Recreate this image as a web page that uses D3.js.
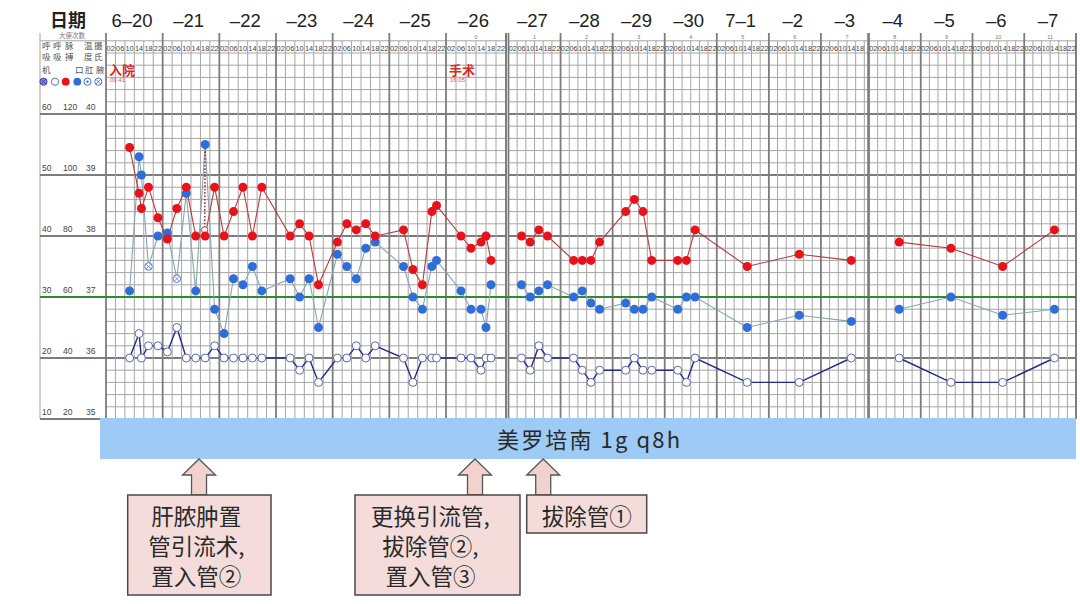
<!DOCTYPE html>
<html><head><meta charset="utf-8">
<script src="https://cdn.jsdelivr.net/npm/d3@7/dist/d3.min.js"></script>
<style>body{margin:0;background:#fff}</style>
</head><body><svg id="c" width="1080" height="604"></svg>
<script>
// ---------- DATA ----------
const dayLabels = ["6–20","–21","–22","–23","–24","–25","–26","–27","–28","–29","–30","7–1","–2","–3","–4","–5","–6","–7"];
const postOpDays = ["","","","","","","0","1","2","3","4","5","6","7","8","9","10","11"];
const hourLabels = ["02","06","10","14","18","22"];
const tempTicks = [35,36,37,38,39,40];
const pulseTicks = [20,40,60,80,100,120];
const respTicks = [10,20,30,40,50,60];

// [dayIndex, hour, value]
const pulse = [
 [0,10,109],[0,14,94],[0,15,89],[0,18,96],[0,22,86],
 [1,2,79],[1,6,89],[1,10,96],[1,14,80],[1,18,80],[1,22,96],
 [2,2,80],[2,6,88],[2,10,96],[2,14,80],[2,18,96],
 [3,6,80],[3,10,84],[3,14,80],[3,18,64],
 [4,2,78],[4,6,84],[4,10,82],[4,14,84],[4,18,80],
 [5,6,82],[5,10,69],[5,14,64],[5,18,88],[5,20,90],
 [6,6,80],[6,10,76],[6,14,78],[6,16,80],[6,18,72],
 [7,6,80],[7,10,78],[7,14,82],[7,18,80],
 [8,6,72],[8,10,72],[8,14,72],[8,18,78],
 [9,6,88],[9,10,92],[9,14,88],[9,18,72],
 [10,6,72],[10,10,72],[10,14,82],
 [11,14,70],[12,14,74],[13,14,72],
 [14,14,78],[15,14,76],[16,14,70],[17,14,82]
];
const oralTemp = [
 [0,10,37.1],[0,14,39.3],[0,15,39.0],[0,22,38.0],
 [1,2,38.05],[1,10,38.7],[1,14,37.1],[1,18,39.5],[1,22,36.8],
 [2,2,36.4],[2,6,37.3],[2,10,37.2],[2,14,37.5],[2,18,37.1],
 [3,6,37.3],[3,10,37.0],[3,14,37.3],[3,18,36.5],
 [4,2,37.7],[4,6,37.5],[4,10,37.3],[4,14,37.8],[4,18,37.9],
 [5,6,37.5],[5,10,37.0],[5,14,36.8],[5,18,37.5],[5,20,37.6],
 [6,6,37.1],[6,10,36.8],[6,14,36.8],[6,16,36.5],[6,18,37.2],
 [7,6,37.2],[7,10,37.0],[7,14,37.1],[7,18,37.2],
 [8,6,37.0],[8,10,37.1],[8,14,36.9],[8,18,36.8],
 [9,6,36.9],[9,10,36.8],[9,14,36.8],[9,18,37.0],
 [10,6,36.8],[10,10,37.0],[10,14,37.0],
 [11,14,36.5],[12,14,36.7],[13,14,36.6],
 [14,14,36.8],[15,14,37.0],[16,14,36.7],[17,14,36.8]
];
const axillaryTemp = [[0,18,37.5],[1,6,37.3]];
const cooledTemp = [[1,18,38.1]];
const respiration = [
 [0,10,20],[0,14,24],[0,15,20],[0,18,22],[0,22,22],
 [1,2,21],[1,6,25],[1,10,20],[1,14,20],[1,18,20],[1,22,22],
 [2,2,20],[2,6,20],[2,10,20],[2,14,20],[2,18,20],
 [3,6,20],[3,10,18],[3,14,20],[3,18,16],
 [4,2,20],[4,6,20],[4,10,22],[4,14,20],[4,18,22],
 [5,6,20],[5,10,16],[5,14,20],[5,18,20],[5,20,20],
 [6,6,20],[6,10,20],[6,14,18],[6,16,20],[6,18,20],
 [7,6,20],[7,10,18],[7,14,22],[7,18,20],
 [8,6,20],[8,10,18],[8,14,16],[8,18,18],
 [9,6,18],[9,10,20],[9,14,18],[9,18,18],
 [10,6,18],[10,10,16],[10,14,20],
 [11,14,16],[12,14,16],[13,14,20],
 [14,14,20],[15,14,16],[16,14,16],[17,14,20]
];
const markers = [["入院","09:41",0,9.7],["手术","16:05",6,16.1]];
const drugLabel = "美罗培南 1g q8h";
const eventTimes = [[1,15.4],[6,11.6],[7,16]];
const eventTexts = [["肝脓肿置","管引流术,","置入管②"],["更换引流管,","拔除管②,","置入管③"],["拔除管①"]];

// ---------- LAYOUT ----------
const svg = d3.select("#c");
const CJK = "'Noto Sans CJK SC','Noto Sans',sans-serif";
const LAT = "'Liberation Sans',Arial,sans-serif";
const panels = [
  {d0:0, d1:7, left:106, right:506, x:d3.scaleLinear().domain([0,144,168]).range([106,446,506])},
  {d0:7, d1:14, left:508.5, right:868, x:d3.scaleLinear().domain([168,336]).range([508.5,873])},
  {d0:14, d1:18, left:869, right:1076, x:d3.scaleLinear().domain([336,432]).range([869,1076])}
];
const panelOf = d => panels.find(p => d >= p.d0 && d < p.d1);
const X = (d,h) => panelOf(d).x(d*24+h);
const yT = d3.scaleLinear().domain([35,41.2]).range([419,40.8]);
const yP = d3.scaleLinear().domain([20,120]).range([yT(35),yT(40)]);
const yR = d3.scaleLinear().domain([10,60]).range([yT(35),yT(40)]);
const thin = "#a6a6a6", thick = "#7c7c7c";

// ---------- GRID ----------
const g = svg.append("g");
const hLines = d3.range(0,32).map(i => +(35 + i*0.2).toFixed(1));
panels.forEach(p => {
  hLines.forEach(t => {
    const major = Math.abs(t - Math.round(t)) < 1e-6 && t !== 37 && t !== 41;
    g.append("line").attr("x1",p.left).attr("x2",p.right).attr("y1",yT(t)).attr("y2",yT(t))
      .attr("stroke", major ? thick : thin).attr("stroke-width", major ? 1.8 : 1);
  });
  for (let t = p.d0*24; t <= p.d1*24; t += 4) {
    const xx = p.x(t);
    if (xx > p.right + 0.5) continue;
    const day = t % 24 === 0;
    g.append("line").attr("x1",xx).attr("x2",xx).attr("y1", day ? 33 : yT(41.2)).attr("y2",yT(35))
      .attr("stroke", day ? thick : thin).attr("stroke-width", day ? 1.8 : 1);
  }
  g.append("line").attr("x1",p.right).attr("x2",p.right).attr("y1",33).attr("y2",yT(35))
    .attr("stroke",thick).attr("stroke-width",1.6);
});
// label column
g.append("line").attr("x1",40).attr("x2",40).attr("y1",33).attr("y2",yT(35)).attr("stroke",thin);
g.append("line").attr("x1",40).attr("x2",106).attr("y1",yT(41.2)).attr("y2",yT(41.2)).attr("stroke",thin);
tempTicks.forEach(t => {
  if (t !== 37) g.append("line").attr("x1",40).attr("x2",106).attr("y1",yT(t)).attr("y2",yT(t))
    .attr("stroke",thick).attr("stroke-width",1.8);
});
// green normal line
g.append("line").attr("x1",40).attr("x2",1076).attr("y1",yT(37)).attr("y2",yT(37))
  .attr("stroke","#2f8a2f").attr("stroke-width",2.2);

// ---------- HEADER ----------
svg.append("text").attr("x",50).attr("y",27).text("日期")
  .attr("font-family",CJK).attr("font-weight","bold").attr("font-size",18).attr("fill","#222");
dayLabels.forEach((lab,i) => {
  svg.append("text").attr("x", X(i,11)).attr("y",27).attr("text-anchor","middle").text(lab)
    .attr("font-family",LAT).attr("font-size",18.5).attr("fill","#222");
  if (postOpDays[i]) svg.append("text").attr("x", X(i,12)).attr("y",39).attr("text-anchor","middle")
    .text(postOpDays[i]).attr("font-family",LAT).attr("font-size",5.5).attr("fill","#777");
  hourLabels.forEach((h,k) => {
    const xx = X(i, 2+4*k);
    if (xx > panelOf(i).right) return;
    svg.append("text").attr("x",xx).attr("y",50.5).attr("text-anchor","middle").text(h)
      .attr("font-family","'Liberation Sans Narrow','Liberation Sans',sans-serif")
      .attr("font-size",7.2).attr("fill","#444").attr("textLength",8.2).attr("lengthAdjust","spacingAndGlyphs");
  });
});

// label column text
const lc = svg.append("g").attr("font-family",CJK).attr("fill","#555").attr("font-size",8.5);
lc.append("text").attr("x",72).attr("y",38).attr("text-anchor","middle").attr("font-size",6.5).attr("fill","#777").text("大便次数");
[["呼",42],["呼",53],["脉",65],["温",84],["摄",94]].forEach(([t,x]) => lc.append("text").attr("x",x).attr("y",49).text(t));
[["吸",42],["吸",53],["搏",65],["度",84],["氏",94]].forEach(([t,x]) => lc.append("text").attr("x",x).attr("y",60).text(t));
[["机",42],["口",75],["肛",85],["腋",96]].forEach(([t,x]) => lc.append("text").attr("x",x).attr("y",73).text(t));
// legend symbols
const sy = 81.7;
lc.append("circle").attr("cx",43.5).attr("cy",sy).attr("r",3.6).attr("fill","#8a86d8").attr("stroke","#4b47a8");
lc.append("path").attr("d",`M41,${sy-2.5}L46,${sy+2.5}M46,${sy-2.5}L41,${sy+2.5}`).attr("stroke","#333a90").attr("stroke-width",0.8);
lc.append("circle").attr("cx",55).attr("cy",sy).attr("r",3.6).attr("fill","#fff").attr("stroke","#6070a8");
lc.append("circle").attr("cx",65.7).attr("cy",sy).attr("r",3.9).attr("fill","#e8121a");
lc.append("circle").attr("cx",77.3).attr("cy",sy).attr("r",3.9).attr("fill","#2f6ed8");
lc.append("circle").attr("cx",87.5).attr("cy",sy).attr("r",3.6).attr("fill","#fff").attr("stroke","#4a6fd0");
lc.append("circle").attr("cx",87.5).attr("cy",sy).attr("r",1.2).attr("fill","#4a6fd0");
lc.append("circle").attr("cx",98.3).attr("cy",sy).attr("r",3.6).attr("fill","#fff").attr("stroke","#4a6fd0");
lc.append("path").attr("d",`M96,${sy-2.3}L100.6,${sy+2.3}M100.6,${sy-2.3}L96,${sy+2.3}`).attr("stroke","#4a6fd0").attr("stroke-width",0.8);
// scale labels
tempTicks.forEach((t,i) => {
  const yy = yT(t) - 4;
  lc.append("text").attr("x",42).attr("y",yy).attr("font-family",LAT).attr("font-size",8.5).attr("fill","#444").text(respTicks[i]);
  lc.append("text").attr("x",63).attr("y",yy).attr("font-family",LAT).attr("font-size",8.5).attr("fill","#444").text(pulseTicks[i]);
  lc.append("text").attr("x",86).attr("y",yy).attr("font-family",LAT).attr("font-size",8.5).attr("fill","#444").text(t);
});

// admission / surgery markers
markers.forEach(([t,tm,d,h]) => {
  const xx = panelOf(d).x(d*24) + 3;
  svg.append("text").attr("x",xx).attr("y",75).text(t).attr("font-family",CJK).attr("font-weight","bold")
    .attr("font-size",13).attr("fill","#d42a2a");
  svg.append("text").attr("x",xx+1).attr("y",82).text(tm).attr("font-family",LAT)
    .attr("font-size",6).attr("fill","#d46060");
});

// ---------- SERIES ----------
const series = svg.append("g");
function drawLine(data, yScale, color, width) {
  panels.forEach(p => {
    const pts = data.filter(d => d[0] >= p.d0 && d[0] < p.d1).sort((a,b)=>(a[0]*24+a[1])-(b[0]*24+b[1]));
    if (pts.length < 2) return;
    series.append("path").attr("d", d3.line().x(d => X(d[0],d[1])).y(d => yScale(d[2]))(pts))
      .attr("fill","none").attr("stroke",color).attr("stroke-width",width);
  });
}
drawLine(respiration, yR, "#262b85", 1.4);
drawLine(oralTemp.concat(axillaryTemp), yT, "#86a6b4", 1.1);
drawLine(pulse, yP, "#b83a3a", 1.1);

// physical cooling dotted line
cooledTemp.forEach(c => {
  const hi = oralTemp.find(o => o[0]===c[0] && o[1]===c[1]);
  series.append("line").attr("x1",X(c[0],c[1])).attr("x2",X(c[0],c[1])-0.5)
    .attr("y1",yT(hi[2])).attr("y2",yT(c[2]))
    .attr("stroke","#b03030").attr("stroke-width",1.6).attr("stroke-dasharray","1.6,1.8");
});

series.selectAll(".resp").data(respiration).join("circle")
  .attr("cx",d=>X(d[0],d[1])).attr("cy",d=>yR(d[2])).attr("r",4)
  .attr("fill","#fff").attr("stroke","#5a6aa6").attr("stroke-width",1);
series.selectAll(".ax").data(axillaryTemp).join("g").each(function(d){
  const s = d3.select(this), cx = X(d[0],d[1]), cy = yT(d[2]);
  s.append("circle").attr("cx",cx).attr("cy",cy).attr("r",3.8).attr("fill","#fff").attr("stroke","#5a7ad0");
  s.append("path").attr("d",`M${cx-2.4},${cy-2.4}L${cx+2.4},${cy+2.4}M${cx+2.4},${cy-2.4}L${cx-2.4},${cy+2.4}`)
    .attr("stroke","#5a7ad0").attr("stroke-width",0.8);
});
series.selectAll(".oral").data(oralTemp).join("circle")
  .attr("cx",d=>X(d[0],d[1])).attr("cy",d=>yT(d[2])).attr("r",4.5).attr("fill","#2f6ed8");
series.selectAll(".cool").data(cooledTemp).join("circle")
  .attr("cx",d=>X(d[0],d[1])-0.5).attr("cy",d=>yT(d[2])).attr("r",3.2)
  .attr("fill","#fff").attr("stroke","#c04040").attr("stroke-width",1);
series.selectAll(".pulse").data(pulse).join("circle")
  .attr("cx",d=>X(d[0],d[1])).attr("cy",d=>yP(d[2])).attr("r",4.5).attr("fill","#e8121a");

// ---------- DRUG BAND ----------
svg.append("rect").attr("x",100).attr("y",418).attr("width",976).attr("height",41).attr("fill","#9dcbf6");
svg.append("text").attr("x",497).attr("y",448).text(drugLabel)
  .attr("font-family","'Noto Sans CJK SC','DejaVu Sans',sans-serif").attr("font-size",22).attr("fill","#2a2a2a")
  .attr("textLength",183).attr("lengthAdjust","spacing");

// ---------- EVENTS ----------
const boxes = [{x0:127.7,x1:271,y0:495,y1:595,dx:-3},{x0:355,x1:520,y0:495,y1:595,dx:-7},{x0:526.7,x1:646.7,y0:495,y1:533,dx:0}];
const ev = svg.append("g");
eventTimes.forEach(([d,h],i) => {
  const cx = X(d,h), top = 459, hb = 475, bot = 495, hw = 16.5, sw = 7.5;
  ev.append("path").attr("d",`M${cx},${top}L${cx+hw},${hb}L${cx+sw},${hb}L${cx+sw},${bot}L${cx-sw},${bot}L${cx-sw},${hb}L${cx-hw},${hb}Z`)
    .attr("fill","#f2d2cc").attr("stroke","#555").attr("stroke-width",1.3);
  const b = boxes[i];
  ev.append("rect").attr("x",b.x0).attr("y",b.y0).attr("width",b.x1-b.x0).attr("height",b.y1-b.y0)
    .attr("fill","#f3dcd9").attr("stroke","#4d4747").attr("stroke-width",1.5);
  eventTexts[i].forEach((t,k) => {
    ev.append("text").attr("x",(b.x0+b.x1)/2 + b.dx).attr("y",b.y0 + 30 + k*30).attr("text-anchor","middle").text(t)
      .attr("font-family",CJK).attr("font-size",22.5).attr("fill","#2a2a2a");
  });
});
</script></body></html>
